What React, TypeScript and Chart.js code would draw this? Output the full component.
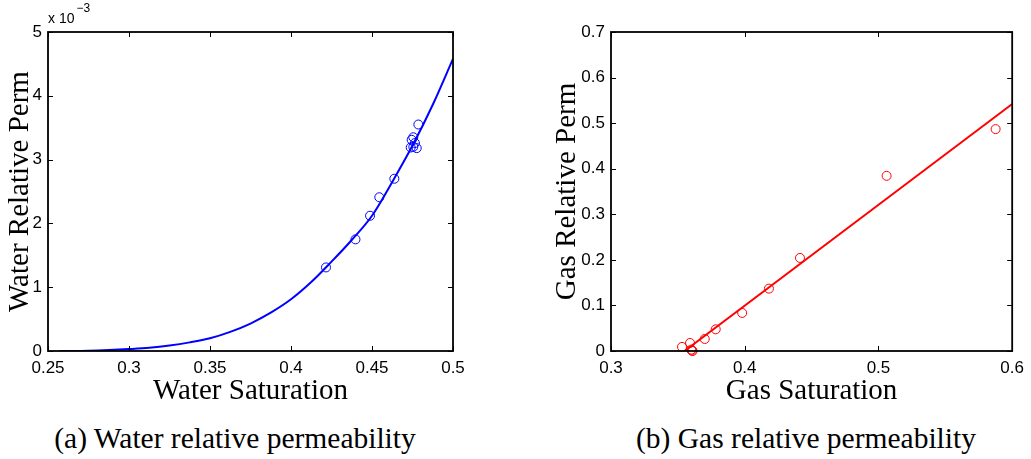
import { useEffect, useRef } from "react";
import { Chart, registerables } from "chart.js";
Chart.register(...registerables);

// ---- Water relative permeability (a) ----
const waterCurveSat = [0.257, 0.275, 0.2875, 0.3, 0.3125, 0.325, 0.3375, 0.35, 0.3625, 0.375, 0.3875, 0.4, 0.4125, 0.425, 0.4375, 0.45, 0.4625, 0.475, 0.4875, 0.5];
const waterCurvePerm = [0, 0.000005, 0.000015, 0.00003, 0.00005, 0.000085, 0.000135, 0.0002, 0.0003, 0.00043, 0.0006, 0.00081, 0.00108, 0.0014, 0.00174, 0.00212, 0.00265, 0.00322, 0.00386, 0.00458];
const waterSat = [0.4216, 0.4398, 0.4488, 0.4545, 0.4638, 0.4786, 0.4755, 0.4745, 0.4755, 0.4776, 0.4739, 0.4765];
const waterPerm = [0.00131, 0.00175, 0.00212, 0.00241, 0.0027, 0.00355, 0.00335, 0.00331, 0.0032, 0.00318, 0.00319, 0.00326];
const waterXTicks = [0.25, 0.3, 0.35, 0.4, 0.45, 0.5];
const waterYTicks = [0, 0.001, 0.002, 0.003, 0.004, 0.005];

// ---- Gas relative permeability (b) ----
const gasLineSat = [0.355, 0.6];
const gasLinePerm = [0, 0.542];
const gasSat = [0.3531, 0.3591, 0.36, 0.3605, 0.361, 0.3701, 0.3783, 0.3981, 0.4181, 0.4413, 0.5061, 0.5876];
const gasPerm = [0.009, 0.0176, 0.003, 0.001, 0.0, 0.0264, 0.0476, 0.0835, 0.1369, 0.2043, 0.3844, 0.4869];
const gasXTicks = [0.3, 0.4, 0.5, 0.6];
const gasYTicks = [0, 0.1, 0.2, 0.3, 0.4, 0.5, 0.6, 0.7];

const TICK_FONT = { family: "'Liberation Sans', Arial, sans-serif", size: 17 };
const TITLE_FONT = { family: "'Liberation Serif', 'Times New Roman', serif", size: 29, lineHeight: 1 };

const fmt = (v: number) => String(Number(v.toFixed(3)));

const frameTicks = {
  id: "frameTicks",
  afterDraw(chart: any) {
    const { ctx, chartArea: a, scales } = chart;
    ctx.save();
    ctx.strokeStyle = "#000";
    ctx.lineWidth = 1;
    const L = 5;
    ctx.beginPath();
    scales.x.ticks.forEach((t: any) => {
      const px = Math.round(scales.x.getPixelForValue(t.value)) + 0.5;
      ctx.moveTo(px, a.bottom);
      ctx.lineTo(px, a.bottom - L);
      ctx.moveTo(px, a.top);
      ctx.lineTo(px, a.top + L);
    });
    scales.y.ticks.forEach((t: any) => {
      const py = Math.round(scales.y.getPixelForValue(t.value)) + 0.5;
      ctx.moveTo(a.left, py);
      ctx.lineTo(a.left + L, py);
      ctx.moveTo(a.right, py);
      ctx.lineTo(a.right - L, py);
    });
    ctx.stroke();
    ctx.lineWidth = 1.8;
    ctx.strokeRect(a.left, a.top, a.right - a.left, a.bottom - a.top);
    ctx.restore();
  },
};

const exponentLabel = {
  id: "exponentLabel",
  afterDraw(chart: any) {
    const { ctx, chartArea: a } = chart;
    ctx.save();
    ctx.fillStyle = "#000";
    ctx.textBaseline = "alphabetic";
    ctx.textAlign = "left";
    ctx.font = "14px 'Liberation Sans', Arial, sans-serif";
    const base = "x 10";
    ctx.fillText(base, a.left, 23);
    const w = ctx.measureText(base).width;
    ctx.font = "12px 'Liberation Sans', Arial, sans-serif";
    ctx.fillText("\u22123", a.left + w + 2, 12);
    ctx.restore();
  },
};

function makeConfig(opts: any) {
  const {
    curveX, curveY, ptsX, ptsY, color, xTicks, yTicks, xTitle, yTitle,
    yLabel, padding, yWidth, yTitlePad, monotone, plugins,
  } = opts;
  return {
    type: "scatter",
    data: {
      datasets: [
        {
          data: curveX.map((x: number, i: number) => ({ x, y: curveY[i] })),
          showLine: true,
          borderColor: color,
          borderWidth: 2,
          pointRadius: 0,
          cubicInterpolationMode: monotone ? "monotone" : "default",
          tension: 0,
        },
        {
          data: ptsX.map((x: number, i: number) => ({ x, y: ptsY[i] })),
          showLine: false,
          borderColor: color,
          backgroundColor: "rgba(0,0,0,0)",
          borderWidth: 1,
          pointRadius: 4.5,
          pointStyle: "circle",
          clip: false,
        },
      ],
    },
    options: {
      animation: false,
      responsive: false,
      devicePixelRatio: 1,
      layout: { padding },
      plugins: { legend: { display: false }, tooltip: { enabled: false } },
      scales: {
        x: {
          type: "linear",
          min: xTicks[0],
          max: xTicks[xTicks.length - 1],
          afterBuildTicks: (s: any) => { s.ticks = xTicks.map((v: number) => ({ value: v })); },
          afterFit: (s: any) => { s.height = 59; },
          grid: { display: false, drawTicks: false },
          border: { display: false },
          ticks: { font: TICK_FONT, color: "#000", padding: 7, callback: (v: number) => fmt(v), maxRotation: 0 },
          title: { display: true, text: xTitle, font: TITLE_FONT, color: "#000", padding: { top: 0, bottom: 4.5 } },
        },
        y: {
          type: "linear",
          min: yTicks[0],
          max: yTicks[yTicks.length - 1],
          afterBuildTicks: (s: any) => { s.ticks = yTicks.map((v: number) => ({ value: v })); },
          afterFit: (s: any) => { s.width = yWidth; },
          grid: { display: false, drawTicks: false },
          border: { display: false },
          ticks: { font: TICK_FONT, color: "#000", padding: 6, callback: yLabel },
          title: { display: true, text: yTitle, font: TITLE_FONT, color: "#000", padding: { top: yTitlePad, bottom: 0 } },
        },
      },
    },
    plugins,
  };
}

function ChartCanvas({ config, left, width, height }: any) {
  const ref = useRef<HTMLCanvasElement>(null);
  useEffect(() => {
    const chart = new Chart(ref.current as HTMLCanvasElement, config);
    return () => chart.destroy();
  }, []);
  return (
    <canvas
      ref={ref}
      width={width}
      height={height}
      style={{ position: "absolute", left, top: 0, width, height }}
    />
  );
}

export default function App() {
  const waterCfg = makeConfig({
    curveX: waterCurveSat, curveY: waterCurvePerm, ptsX: waterSat, ptsY: waterPerm,
    color: "#0000ff", xTicks: waterXTicks, yTicks: waterYTicks,
    xTitle: "Water Saturation", yTitle: "Water Relative Perm",
    yLabel: (v: number) => String(Math.round(v * 1000)),
    padding: { left: 0, top: 32, right: 62, bottom: 0 },
    yWidth: 48, yTitlePad: 5.5, monotone: true, plugins: [frameTicks, exponentLabel],
  });
  const gasCfg = makeConfig({
    curveX: gasLineSat, curveY: gasLinePerm, ptsX: gasSat, ptsY: gasPerm,
    color: "#ff0000", xTicks: gasXTicks, yTicks: gasYTicks,
    xTitle: "Gas Saturation", yTitle: "Gas Relative Perm",
    yLabel: (v: number) => fmt(v),
    padding: { left: 0, top: 32, right: 15, bottom: 0 },
    yWidth: 96, yTitlePad: 38, monotone: false, plugins: [frameTicks],
  });
  const captionStyle: any = {
    position: "absolute",
    top: 423,
    width: 460,
    textAlign: "center",
    fontFamily: "'Liberation Serif', 'Times New Roman', serif",
    fontSize: 29.5,
    lineHeight: "30px",
    whiteSpace: "nowrap",
    color: "#000",
  };
  return (
    <div style={{ position: "absolute", left: 0, top: 0, width: 1031, height: 459, background: "#fff", overflow: "hidden" }}>
      <ChartCanvas config={waterCfg} left={0} width={515} height={410} />
      <ChartCanvas config={gasCfg} left={515} width={516} height={410} />
      <div style={{ ...captionStyle, left: 235 - 230 }}>(a) Water relative permeability</div>
      <div style={{ ...captionStyle, left: 806 - 230 }}>(b) Gas relative permeability</div>
    </div>
  );
}
